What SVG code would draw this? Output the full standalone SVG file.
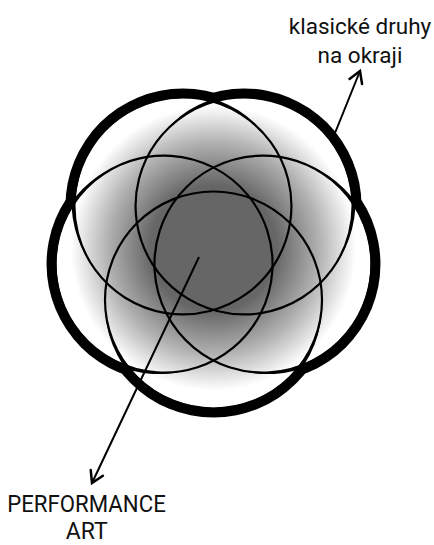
<svg xmlns="http://www.w3.org/2000/svg" xmlns:xlink="http://www.w3.org/1999/xlink" width="434" height="545" viewBox="0 0 434 545">
<style>
.lbl{font-family:Roboto,"Liberation Sans","DejaVu Sans",sans-serif;font-size:24px;fill:#111;text-anchor:middle}
.top{font-size:22.5px}
.art{font-size:23px}
.band{fill:#000}
.taper{fill:#000}
.thin{fill:none;stroke:#000;stroke-width:2.2}
.conn{stroke:#000;stroke-width:2;fill:none}
</style>
<defs>
<radialGradient id="shade" gradientUnits="userSpaceOnUse" cx="213.5" cy="248" r="150">
<stop offset="0" stop-color="#666"/>
<stop offset="0.42" stop-color="#666"/>
<stop offset="0.7" stop-color="#b0b0b0"/>
<stop offset="0.95" stop-color="#fff"/>
</radialGradient>
<clipPath id="union">
<circle cx="213.5" cy="300" r="107.6"/>
<circle cx="164.045" cy="264.069" r="107.6"/>
<circle cx="182.935" cy="205.931" r="107.6"/>
<circle cx="244.065" cy="205.931" r="107.6"/>
<circle cx="262.955" cy="264.069" r="107.6"/>
</clipPath>
<g id="ring">
<path class="taper" d="M105.029,302.5 A108.5,108.5 0 1,0 321.971,302.5 A108.5,108.5 0 0,1 105.029,302.5 Z"/>
<circle class="thin" cx="213.5" cy="300" r="108.5"/>
</g>
<marker id="ah" markerUnits="userSpaceOnUse" orient="auto" refX="0" refY="0" markerWidth="20" markerHeight="20" viewBox="-12 -8 14 16" overflow="visible">
<path d="M-9,-5.4 L0,0 L-9,5.4" fill="none" stroke="#000" stroke-width="2" stroke-linecap="round" stroke-linejoin="miter"/>
</marker>
</defs>
<rect width="434" height="545" fill="#fff"/>
<g id="outline">
<circle class="band" cx="213.5" cy="300" r="117.5"/>
<circle class="band" cx="164.045" cy="264.069" r="117.5"/>
<circle class="band" cx="182.935" cy="205.931" r="117.5"/>
<circle class="band" cx="244.065" cy="205.931" r="117.5"/>
<circle class="band" cx="262.955" cy="264.069" r="117.5"/>
</g>
<g id="shading" clip-path="url(#union)">
<rect x="80" y="80" width="280" height="350" fill="#fff"/>
<circle cx="213.5" cy="248" r="170" fill="url(#shade)"/>
</g>
<g id="circle-bottom"><use xlink:href="#ring"/></g>
<g id="circle-left"><use xlink:href="#ring" transform="rotate(72 213.5 248)"/></g>
<g id="circle-top-left"><use xlink:href="#ring" transform="rotate(144 213.5 248)"/></g>
<g id="circle-top-right"><use xlink:href="#ring" transform="rotate(216 213.5 248)"/></g>
<g id="circle-right"><use xlink:href="#ring" transform="rotate(288 213.5 248)"/></g>
<g id="connectors">
<line class="conn" x1="199" y1="257" x2="92" y2="483" marker-end="url(#ah)"/>
<line class="conn" x1="335" y1="133" x2="360" y2="71" marker-end="url(#ah)"/>
</g>
<g id="label-top">
<text class="lbl top" x="360" y="33.5">klasické druhy</text>
<text class="lbl top" x="360" y="63">na okraji</text>
</g>
<g id="label-bottom">
<text class="lbl" x="86.5" y="512" textLength="158.5" lengthAdjust="spacingAndGlyphs">PERFORMANCE</text>
<text class="lbl art" x="86.7" y="538.5">ART</text>
</g>
</svg>
